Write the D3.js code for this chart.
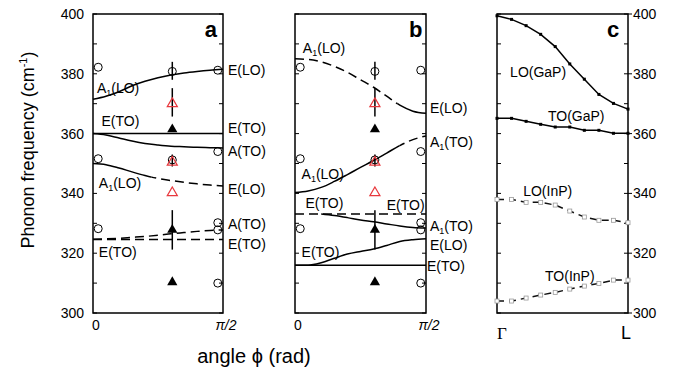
<!DOCTYPE html>
<html><head><meta charset="utf-8">
<script src="https://cdn.jsdelivr.net/npm/d3@7"></script>
<style>
body{margin:0;background:#fff}
svg{display:block;font-family:"Liberation Sans",Arial,Helvetica,sans-serif}
</style>
</head><body>
<svg id="chart" width="680" height="370"></svg>
<script>
// ---------------- DATA ----------------
const angleTickLabels = ["0", "π/2"];
const bzTickLabels = ["Γ", "L"];
const freqTicks = [300, 320, 340, 360, 380, 400];
const freqMinorTicks = [310, 330, 350, 370, 390];
// angle as fraction of π/2
const phiGrid = [0, 0.1, 0.2, 0.3, 0.4, 0.5, 0.6, 0.7, 0.8, 0.9, 1.0];

// panel a: calculated modes
const aUpperLO = [371.5, 372.5, 374, 376, 377.5, 378.7, 379.6, 380.3, 380.8, 381.2, 381.5];
const aUpperTOflat = [360, 360, 360, 360, 360, 360, 360, 360, 360, 360, 360];
const aUpperTO = [360, 359.5, 358.5, 357.5, 356.7, 356.2, 355.8, 355.6, 355.4, 355.3, 355.2];
const aLowerLO = [350, 349.6, 348.5, 347.2, 346, 345, 344.3, 343.7, 343.2, 342.8, 342.5];
const aLowerTO = [324.7, 324.8, 325, 325.3, 325.6, 326, 326.5, 326.9, 327.3, 327.6, 327.8];
const aLowerTOflat = [324.6, 324.6, 324.6, 324.6, 324.6, 324.6, 324.6, 324.6, 324.6, 324.6, 324.6];

// panel b: calculated modes
const bUpperLO = [385, 384.8, 384, 382.5, 380.5, 378, 375.5, 372.5, 369.5, 367.5, 366.8];
const bMidLO = [340.3, 340.8, 342, 344, 346.3, 348.7, 351, 353.5, 356, 358, 359.2];
const bMidTOflat = [333.1, 333.1, 333.1, 333.1, 333.1, 333.1, 333.1, 333.1, 333.1, 333.1, 333.1];
const bMidTOphi = [0.2, 0.3, 0.4, 0.5, 0.6, 0.7, 0.8, 0.9, 1.0];
const bMidTO = [333.1, 332.6, 331.9, 331.1, 330.5, 329.8, 329.1, 328.6, 328.4];
const bLowLO = [316, 316, 316.8, 318.3, 319.7, 320.6, 321.4, 322.6, 323.9, 324.5, 324.8];
const bLowTOflat = [316, 316, 316, 316, 316, 316, 316, 316, 316, 316, 316];

// experimental points (shared by panels a and b)
const edgeLeftPhi = 0.04;
const edgeRightPhi = 0.96;
const edgeLeftCircles = [382.2, 351.6, 328.2];
const edgeRightCircles = [381.2, 354, 330.2, 327.8, 310];
const midPhi = 0.61;
const midCircles = [380.8, 351.2];
const midCirclesLo = [378, 349];
const midCirclesHi = [384, 353];
const midRedTriangles = [370, 350.4, 340.2];
const midRedLo = [365.7, null, null];
const midRedHi = [375.2, null, null];
const midBlackTriangles = [361.4, 327.8, 310.3];
const midBlackLo = [null, 321.2, null];
const midBlackHi = [null, 334.4, null];

// panel c: dispersion Γ -> L
const qIndex = [0, 1, 2, 3, 4, 5, 6, 7, 8, 9];
const gapLO = [399.4, 398.2, 396.1, 393.2, 389.1, 383.3, 378.2, 373.1, 370.1, 368.2];
const gapTO = [365.1, 365.1, 364.1, 363.1, 362.2, 362.2, 361.1, 361.1, 360.1, 360.1];
const inpLO = [338, 338, 337, 337, 336.1, 334.1, 332.1, 331, 331, 330.2];
const inpTO = [304, 304, 305, 306, 306.9, 308, 309, 309.9, 311, 311];

// ---------------- LAYOUT ----------------
const svg = d3.select("#chart");
const yTop = 14, yBottom = 313;
const panels = {a: [93, 223], b: [295, 426], c: [497, 628]};
const y = d3.scaleLinear().domain([300, 400]).range([yBottom, yTop]);
const xa = d3.scaleLinear().domain([0, 1]).range(panels.a);
const xb = d3.scaleLinear().domain([0, 1]).range(panels.b);
const xc = d3.scaleLinear().domain([0, 9]).range(panels.c);
const RED = "#e8383d";
const DASH = "9,5";

let clipId = 0;
function curve(x, xv, yv, style) {
  const pts = xv.map((d, i) => [d, yv[i]]);
  const line = d3.line().x(d => x(d[0])).y(d => y(d[1])).curve(d3.curveMonotoneX);
  const split = style && style.split != null ? style.split : null;
  if (split == null) {
    svg.append("path").attr("d", line(pts)).attr("fill", "none").attr("stroke", "#000")
      .attr("stroke-width", 1.5).attr("stroke-dasharray", style && style.dashed ? DASH : null);
    return;
  }
  const sx = x(split);
  const [x0, x1] = x.range();
  [[x0 - 2, sx, style.firstDashed], [sx, x1 + 2, !style.firstDashed]].forEach(([a, b, dashed]) => {
    const id = "clip" + (clipId++);
    svg.append("clipPath").attr("id", id).append("rect")
      .attr("x", a).attr("y", 0).attr("width", b - a).attr("height", 370);
    svg.append("path").attr("d", line(pts)).attr("clip-path", `url(#${id})`)
      .attr("fill", "none").attr("stroke", "#000").attr("stroke-width", 1.5)
      .attr("stroke-dasharray", dashed ? DASH : null);
  });
}

function frame(x) {
  const [x0, x1] = x.range();
  const g = svg.append("g");
  const all = freqTicks.concat(freqMinorTicks);
  g.selectAll(".tl").data(all).join("line")
    .attr("x1", x0).attr("x2", x0 + 4).attr("y1", d => y(d)).attr("y2", d => y(d))
    .attr("stroke", "#000").attr("stroke-width", 1);
  g.selectAll(".tr").data(all).join("line")
    .attr("x1", x1).attr("x2", x1 - 4).attr("y1", d => y(d)).attr("y2", d => y(d))
    .attr("stroke", "#000").attr("stroke-width", 1);
  svg.append("rect").attr("x", x0).attr("y", yTop).attr("width", x1 - x0).attr("height", yBottom - yTop)
    .attr("fill", "none").attr("stroke", "#000").attr("stroke-width", 1.5);
}

function label(x, xv, yv, main, sub, rest) {
  const t = svg.append("text").attr("x", typeof xv === "number" ? x(xv) : xv.px)
    .attr("y", y(yv)).attr("font-size", 14).attr("fill", "#000");
  t.append("tspan").text(main);
  if (sub) {
    t.append("tspan").attr("font-size", 9).attr("dy", 3).text(sub);
    t.append("tspan").attr("dy", -3).text(rest);
  }
}

function experiment(x) {
  const g = svg.append("g");
  const mx = x(midPhi);
  const bars = [];
  midCircles.forEach((v, i) => bars.push([midCirclesLo[i], midCirclesHi[i]]));
  midRedTriangles.forEach((v, i) => { if (midRedLo[i] != null) bars.push([midRedLo[i], midRedHi[i]]); });
  midBlackTriangles.forEach((v, i) => { if (midBlackLo[i] != null) bars.push([midBlackLo[i], midBlackHi[i]]); });
  g.selectAll(".eb").data(bars).join("line")
    .attr("x1", mx).attr("x2", mx).attr("y1", d => y(d[0])).attr("y2", d => y(d[1]))
    .attr("stroke", "#000").attr("stroke-width", 1.5);
  const circ = edgeLeftCircles.map(v => [edgeLeftPhi, v])
    .concat(edgeRightCircles.map(v => [edgeRightPhi, v]))
    .concat(midCircles.map(v => [midPhi, v]));
  g.selectAll(".c").data(circ).join("circle")
    .attr("cx", d => x(d[0])).attr("cy", d => y(d[1])).attr("r", 4)
    .attr("fill", "none").attr("stroke", "#000").attr("stroke-width", 1);
  const tri = d3.symbol().type(d3.symbolTriangle).size(44);
  g.selectAll(".rt").data(midRedTriangles).join("path")
    .attr("d", tri).attr("transform", d => `translate(${mx},${y(d)})`)
    .attr("fill", "none").attr("stroke", RED).attr("stroke-width", 1.2);
  g.selectAll(".bt").data(midBlackTriangles).join("path")
    .attr("d", d3.symbol().type(d3.symbolTriangle).size(45))
    .attr("transform", d => `translate(${mx},${y(d)})`).attr("fill", "#000");
}

// ----- panel a -----
frame(xa);
curve(xa, phiGrid, aUpperLO);
curve(xa, phiGrid, aUpperTOflat);
curve(xa, phiGrid, aUpperTO);
curve(xa, phiGrid, aLowerLO, {split: 0.45, firstDashed: false});
curve(xa, phiGrid, aLowerTO, {dashed: true});
curve(xa, phiGrid, aLowerTOflat, {dashed: true});
experiment(xa);
label(xa, 0.03, 373.6, "A", "1", "(LO)");
label(xa, 0.065, 362.5, "E(TO)");
label(xa, 0.045, 341.8, "A", "1", "(LO)");
label(xa, 0.045, 318.6, "E(TO)");
const aR = {px: panels.a[1] + 5};
label(xa, aR, 379.6, "E(LO)");
label(xa, aR, 360.2, "E(TO)");
label(xa, aR, 352.6, "A(TO)");
label(xa, aR, 339.8, "E(LO)");
label(xa, aR, 328.1, "A(TO)");
label(xa, aR, 321.4, "E(TO)");

// ----- panel b -----
frame(xb);
curve(xb, phiGrid, bUpperLO, {split: 0.78, firstDashed: true});
curve(xb, phiGrid, bMidLO, {split: 0.8, firstDashed: false});
curve(xb, phiGrid, bMidTOflat, {dashed: true});
curve(xb, bMidTOphi, bMidTO);
curve(xb, phiGrid, bLowLO);
curve(xb, phiGrid, bLowTOflat);
experiment(xb);
label(xb, 0.06, 387, "A", "1", "(LO)");
label(xb, 0.05, 344.8, "A", "1", "(LO)");
label(xb, 0.08, 335.2, "E(TO)");
label(xb, 0.7, 334.6, "E(TO)");
label(xb, 0.05, 318.7, "E(TO)");
const bR = {px: panels.b[1] + 4};
label(xb, bR, 366.9, "E(LO)");
label(xb, bR, 355.5, "A", "1", "(TO)");
label(xb, bR, 327.4, "A", "1", "(TO)");
label(xb, bR, 321.2, "E(LO)");
label(xb, {px: panels.b[1] + 1}, 314, "E(TO)");

// ----- panel c -----
frame(xc);
svg.selectAll(".cro").data(freqTicks).join("line")
  .attr("x1", panels.c[1]).attr("x2", panels.c[1] + 4).attr("y1", d => y(d)).attr("y2", d => y(d))
  .attr("stroke", "#000").attr("stroke-width", 1);
const lineC = d3.line().x((d, i) => xc(qIndex[i])).y(d => y(d));
[[gapLO, false], [gapTO, false], [inpLO, true], [inpTO, true]].forEach(([vals, inp]) => {
  svg.append("path").attr("d", lineC(vals)).attr("fill", "none")
    .attr("stroke", inp ? "#111" : "#000").attr("stroke-width", 1.5)
    .attr("stroke-dasharray", inp ? "7,5" : null);
  svg.append("g").selectAll("rect").data(vals).join("rect")
    .attr("x", (d, i) => xc(qIndex[i]) - (inp ? 2 : 1.5))
    .attr("y", d => y(d) - (inp ? 2 : 1.5))
    .attr("width", inp ? 4 : 3).attr("height", inp ? 4 : 3)
    .attr("fill", inp ? "#fff" : "#000").attr("stroke", inp ? "#999" : "none").attr("stroke-width", 0.8);
});
label(xc, 0.9, 378.8, "LO(GaP)");
label(xc, 3.5, 364.3, "TO(GaP)");
label(xc, 1.8, 339.2, "LO(InP)");
label(xc, 3.3, 310.8, "TO(InP)");

// ----- axis labels -----
svg.selectAll(".yl").data(freqTicks).join("text")
  .attr("x", panels.a[0] - 9).attr("y", d => y(d) + 5).attr("text-anchor", "end")
  .attr("font-size", 14).text(d => d);
svg.selectAll(".yr").data(freqTicks).join("text")
  .attr("x", panels.c[1] + 5).attr("y", d => y(d) + 5).attr("text-anchor", "start")
  .attr("font-size", 14).text(d => d);
[xa, xb].forEach(x => {
  svg.append("g").selectAll("text").data(angleTickLabels).join("text")
    .attr("x", (d, i) => x(i) + 3).attr("y", 330).attr("text-anchor", "middle")
    .attr("font-size", 14).attr("font-style", (d, i) => i ? "italic" : null).text(d => d);
});
svg.append("g").selectAll("text").data(bzTickLabels).join("text")
  .attr("x", (d, i) => xc(i * 9) + (i ? -2 : 5)).attr("y", 339).attr("text-anchor", "middle")
  .attr("font-size", (d, i) => i ? 18 : 17)
  .attr("font-family", (d, i) => i ? null : "'Liberation Serif', serif").text(d => d);

const panelLetters = ["a", "b", "c"];
[[xa, 0.86], [xb, 0.87], [xc, 0.84 * 9]].forEach(([x, v], i) => {
  svg.append("text").attr("x", x(v)).attr("y", 37).attr("font-size", 22)
    .attr("font-weight", "bold").text(panelLetters[i]);
});

const yt = svg.append("text").attr("transform", "translate(34,150) rotate(-90)")
  .attr("text-anchor", "middle").attr("font-size", 18);
yt.append("tspan").text("Phonon frequency (cm");
yt.append("tspan").attr("font-size", 11).attr("dy", -7).text("-1");
yt.append("tspan").attr("dy", 7).text(")");

svg.append("text").attr("x", 254).attr("y", 363).attr("text-anchor", "middle")
  .attr("font-size", 20).text("angle ϕ (rad)");
</script>
</body></html>
